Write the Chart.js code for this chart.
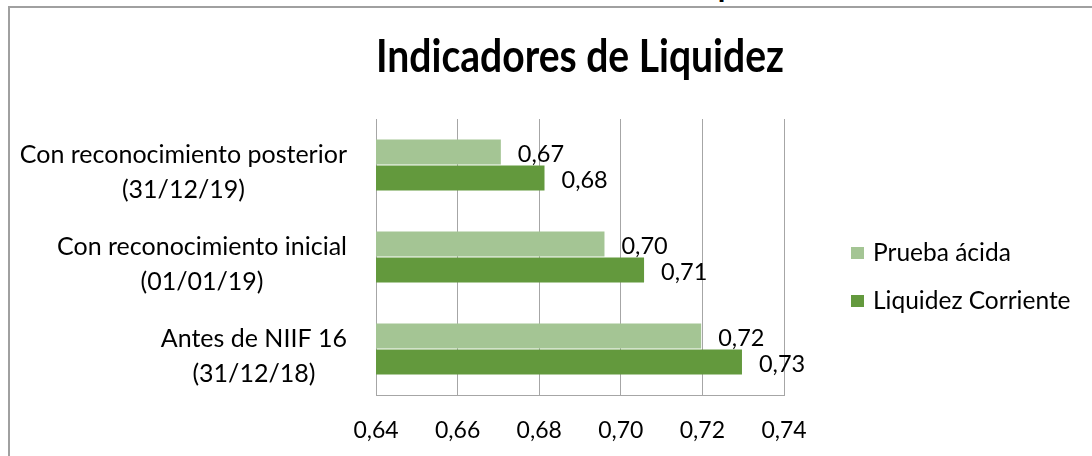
<!DOCTYPE html>
<html lang="es">
<head>
    <meta charset="UTF-8">
    <title>Indicadores de Liquidez</title>
    <style>
        body {
            margin: 0;
            background: #ffffff;
            font-family: Lato, sans-serif;
            overflow: hidden;
        }

        .pie-superior {
            position: absolute;
            top: -30px;
            left: 0;
            width: 1092px;
            text-align: center;
            font: bold 31px/31px Lato, sans-serif;
            color: #000;
            padding-left: 42px;
            box-sizing: border-box;
        }

        .marco {
            position: absolute;
            left: 8px;
            top: 6px;
            width: 1200px;
            height: 600px;
            border-left: 2px solid #a0a0a0;
            border-top: 2px solid #a0a0a0;
        }

        .grafico {
            position: absolute;
            left: 0;
            top: 0;
            width: 1092px;
            height: 456px;
        }
    </style>
    <script src="https://cdn.jsdelivr.net/npm/chart.js@4"></script>
</head>
<body>
    <div class="pie-superior">Gráfico 3. Indicadores de Liquidez</div>
    <div class="marco"></div>
    <div class="grafico">
        <canvas id="liquidez"></canvas>
    </div>

    <script>
        // datos
        const categorias = [
            ['Con reconocimiento posterior', '(31/12/19)'],
            ['Con reconocimiento inicial', '(01/01/19)'],
            ['Antes de NIIF 16', '(31/12/18)']
        ];
        const nombresSeries = ['Prueba ácida', 'Liquidez Corriente'];
        const pruebaAcida = [0.6706, 0.6960, 0.7197];
        const liquidezCorriente = [0.6813, 0.7057, 0.7297];
        const ticksX = [0.64, 0.66, 0.68, 0.70, 0.72, 0.74];

        const fuente = 'Lato, sans-serif';
        const coma = v => v.toFixed(2).replace('.', ',');

        // etiquetas de categoria, valores y leyenda dibujados a mano
        const extras = {
            id: 'extras',
            afterDatasetsDraw(chart) {
                const ctx = chart.ctx;
                const ejeY = chart.scales.y;
                const area = chart.chartArea;
                ctx.save();
                ctx.fillStyle = '#000';
                ctx.textBaseline = 'middle';

                // valores al final de cada barra
                ctx.font = '23.5px ' + fuente;
                ctx.textAlign = 'left';
                chart.data.datasets.forEach((ds, i) => {
                    chart.getDatasetMeta(i).data.forEach((barra, j) => {
                        ctx.fillText(coma(ds.data[j]), barra.x + 17, barra.y + 2);
                    });
                });

                // categorias (dos lineas centradas, bloque alineado a la derecha)
                ctx.font = '25px ' + fuente;
                ctx.textAlign = 'center';
                chart.data.labels.forEach((lineas, i) => {
                    const yc = ejeY.getPixelForValue(i) + 7;
                    const ancho = Math.max(...lineas.map(l => ctx.measureText(l).width));
                    const xc = area.left - 29 - ancho / 2;
                    lineas.forEach((l, k) => {
                        ctx.fillText(l, xc, yc + (k - (lineas.length - 1) / 2) * 35);
                    });
                });

                // leyenda
                ctx.font = '24.5px ' + fuente;
                ctx.textAlign = 'left';
                chart.data.datasets.forEach((ds, i) => {
                    const yc = area.top + 134 + i * 48;
                    const xb = area.right + 67;
                    ctx.fillStyle = ds.backgroundColor;
                    ctx.fillRect(xb, yc - 6, 13, 12);
                    ctx.fillStyle = '#000';
                    ctx.fillText(ds.label, xb + 22, yc);
                });
                ctx.restore();
            }
        };

        new Chart(document.getElementById('liquidez'), {
            type: 'bar',
            data: {
                labels: categorias,
                datasets: [{
                    label: nombresSeries[0],
                    data: pruebaAcida,
                    backgroundColor: '#a4c594',
                    categoryPercentage: 0.562,
                    barPercentage: 0.965
                }, {
                    label: nombresSeries[1],
                    data: liquidezCorriente,
                    backgroundColor: '#63993d',
                    categoryPercentage: 0.562,
                    barPercentage: 0.965
                }]
            },
            options: {
                indexAxis: 'y',
                responsive: true,
                maintainAspectRatio: false,
                animation: false,
                layout: {
                    padding: { left: 376, right: 308, top: 0, bottom: 0 }
                },
                plugins: {
                    legend: { display: false },
                    tooltip: { enabled: false },
                    title: {
                        display: true,
                        text: 'Indicadores de Liquidez',
                        color: '#000',
                        font: { family: fuente, size: 45, weight: 'bold', lineHeight: 1.2 },
                        padding: { top: 30, bottom: 35 }
                    }
                },
                scales: {
                    x: {
                        min: 0.64,
                        max: 0.74,
                        afterBuildTicks: s => { s.ticks = ticksX.map(v => ({ value: v })); },
                        afterFit: s => { s.height = 61; },
                        grid: { color: '#a6a6a6', lineWidth: 1, drawTicks: false },
                        border: { color: '#a6a6a6', width: 1 },
                        ticks: {
                            color: '#000',
                            font: { family: fuente, size: 23 },
                            padding: 22,
                            callback: v => coma(v)
                        }
                    },
                    y: {
                        grid: { display: false },
                        border: { display: false },
                        ticks: { display: false },
                        afterFit: s => { s.width = 0; }
                    }
                }
            },
            plugins: [extras]
        });
    </script>
</body>
</html>
